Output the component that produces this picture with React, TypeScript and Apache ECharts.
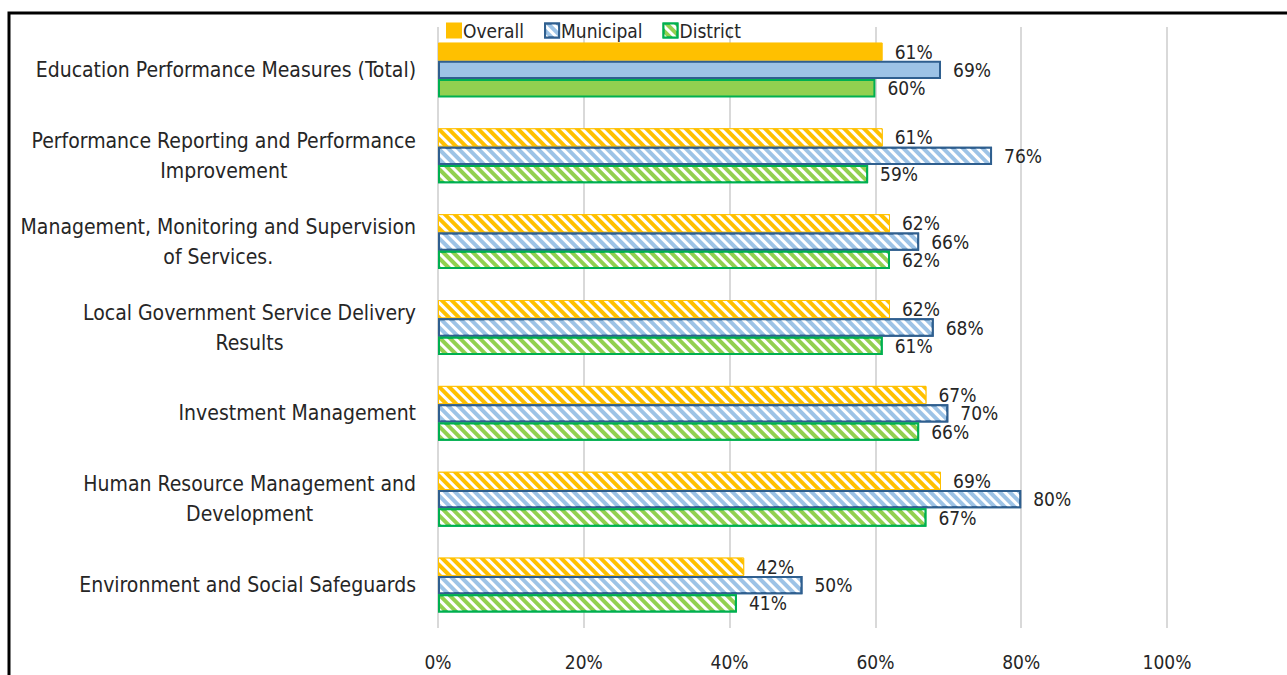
import React, { useEffect, useRef } from 'react';
import * as echarts from 'echarts';

const categories = [
  'Education Performance Measures (Total)',
  'Performance Reporting and Performance\nImprovement',
  'Management, Monitoring and Supervision\nof Services.',
  'Local Government Service Delivery\nResults',
  'Investment Management',
  'Human Resource Management and\nDevelopment',
  'Environment and Social Safeguards',
];
const overall = [0.61, 0.61, 0.62, 0.62, 0.67, 0.69, 0.42];
const municipal = [0.69, 0.76, 0.66, 0.68, 0.7, 0.8, 0.5];
const district = [0.6, 0.59, 0.62, 0.61, 0.66, 0.67, 0.41];
const xTicks = [0, 0.2, 0.4, 0.6, 0.8, 1.0];

const FONT = '"DejaVu Sans Condensed", "Liberation Sans Narrow", sans-serif';
const TEXT = '#262626';

const hatch = {
  symbol: 'rect',
  symbolSize: 1,
  color: '#ffffff',
  dashArrayX: [1, 0],
  dashArrayY: [2.5, 3.5],
  rotation: Math.PI / 4,
};

function makeSeries(name: string, values: number[], color: string, border: string, bw: number, seriesHatch: boolean) {
  return {
    name,
    type: 'bar',
    data: values.map((v, i) => {
      if (i === 0) {
        return { value: v, itemStyle: { color, borderColor: border, borderWidth: bw, decal: 'none' } };
      }
      return seriesHatch ? v : { value: v, itemStyle: { color, borderColor: border, borderWidth: bw, decal: hatch } };
    }),
    barGap: '0%',
    barCategoryGap: '36%',
    itemStyle: seriesHatch
      ? { color, borderColor: border, borderWidth: bw, decal: hatch }
      : { color, borderColor: border, borderWidth: bw },
    label: {
      show: true,
      position: 'right',
      distance: 12,
      fontFamily: FONT,
      fontSize: 19,
      lineHeight: 17,
      color: TEXT,
      formatter: (p: any) => Math.round(p.value * 100) + '%',
    },
  };
}

export default function App() {
  const ref = useRef<HTMLDivElement>(null);
  useEffect(() => {
    const chart = echarts.init(ref.current!, null, { renderer: 'svg' });
    chart.setOption({
      animation: false,
      backgroundColor: '#ffffff',
      textStyle: { fontFamily: FONT },
      legend: {
        left: 441,
        top: 16,
        itemWidth: 14,
        itemHeight: 14,
        itemGap: 20,
        icon: 'rect',
        textStyle: { fontFamily: FONT, fontSize: 19, color: TEXT, padding: [0, 0, 0, -3] },
        data: ['Overall', 'Municipal', 'District'],
      },
      grid: { left: 438, right: 120, top: 27, bottom: 47, containLabel: false },
      xAxis: {
        type: 'value',
        min: 0,
        max: 1,
        interval: 0.2,
        axisLine: { show: false },
        axisTick: { show: false },
        splitLine: { show: true, lineStyle: { color: '#d9d9d9', width: 2 } },
        axisLabel: {
          margin: 24,
          fontFamily: FONT,
          fontSize: 19,
          color: TEXT,
          formatter: (v: number) => (xTicks.includes(v) ? Math.round(v * 100) + '%' : ''),
        },
      },
      yAxis: {
        type: 'category',
        inverse: true,
        data: categories,
        axisLine: { show: false },
        axisTick: { show: false },
        axisLabel: {
          margin: 22,
          formatter: (v: string) => v.split('\n').map((l) => `{c|${l}}`).join('\n'),
          rich: {
            c: { align: 'center', fontFamily: FONT, fontSize: 21, color: TEXT, lineHeight: 30 },
          },
        },
      },
      series: [
        makeSeries('Overall', overall, '#FFC000', '#FFC000', 1, false),
        makeSeries('Municipal', municipal, '#9DC3E6', '#2F5F8F', 2, true),
        makeSeries('District', district, '#92D050', '#00B050', 2, true),
      ],
      graphic: [
        {
          type: 'rect',
          shape: { x: 9, y: 13, width: 1400, height: 800 },
          style: { fill: 'none', stroke: '#000', lineWidth: 3 },
          silent: true,
        },
      ],
    });
    return () => chart.dispose();
  }, []);
  return (
    <div
      ref={ref}
      style={{ position: 'fixed', left: 0, top: 0, width: 1287, height: 675, background: '#fff' }}
    />
  );
}
